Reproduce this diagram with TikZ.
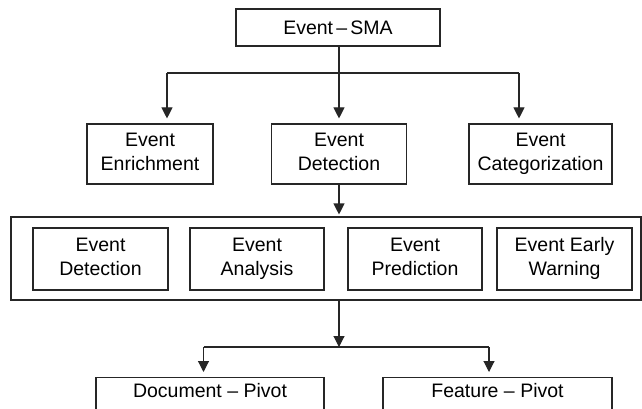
\documentclass[tikz,border=0pt]{standalone}
\usepackage{fontspec}
\setmainfont{Liberation Sans}
\usetikzlibrary{arrows.meta}
\newcommand{\twol}[2]{\strut #1\\\strut #2}
\tikzset{
  box/.style={draw=black!85, line width=1.1pt, inner sep=0pt, align=center,
    font=\fontsize{19.5}{24}\selectfont},
  txt/.style={inner sep=0pt, align=center, font=\fontsize{19.5}{24}\selectfont},
  conn/.style={draw=black!85, line width=1.1pt},
  arr/.style={conn, -{Triangle[width=11pt,length=11pt]}},
}
\begin{document}
\begin{tikzpicture}[x=1pt,y=-1pt]
\useasboundingbox[fill=white] (0,0) rectangle (642,409);
\path[clip] (0,0) rectangle (642,409);
% top
\node[box, minimum width=204pt, minimum height=37pt] (sma) at (338,27.5) {Event\,–\,SMA};
% middle row
\node[box, minimum width=126pt, minimum height=60pt] (enr) at (150,154) {\twol{Event}{Enrichment}};
\node[box, minimum width=135pt, minimum height=60pt] (det) at (339,154) {\twol{Event}{Detection}};
\node[box, minimum width=143pt, minimum height=60pt] (cat) at (540.5,154) {\twol{Event}{Categorization}};
% outer box
\node[box, minimum width=630pt, minimum height=83pt] (outer) at (326,258.5) {};
\node[box, minimum width=135pt, minimum height=62pt] (i1) at (100.5,259) {\twol{Event}{Detection}};
\node[box, minimum width=134pt, minimum height=62pt] (i2) at (257,259) {\twol{Event}{Analysis}};
\node[box, minimum width=134pt, minimum height=62pt] (i3) at (415,259) {\twol{Event}{Prediction}};
\node[box, minimum width=135pt, minimum height=62pt] (i4) at (564.5,259) {\twol{Event Early}{Warning}};
% bottom boxes
\node[box, minimum width=228pt, minimum height=60pt, anchor=north] (doc) at (210,377) {};
\node[txt] (doct) at (210,391) {Document – Pivot};
\node[box, minimum width=229pt, minimum height=60pt, anchor=north] (feat) at (497.5,377) {};
\node[txt] (featt) at (497.5,391) {Feature – Pivot};
% connectors top
\coordinate (bl) at (167,73);
\coordinate (br) at (519,73);
\draw[conn] (bl) -- (br);
\draw[arr, shorten >=5pt] (sma.south -| det.north) -- (det.north);
\draw[arr, shorten >=5pt] (bl) -- (bl |- enr.north);
\draw[arr, shorten >=5pt] (br) -- (br |- cat.north);
% detection to outer
\draw[arr, shorten >=2pt] (det.south) -- (det.south |- outer.north);
% outer to bottom
\coordinate (ml) at (203.5,347);
\coordinate (mr) at (489,347);
\draw[arr] (det.south |- outer.south) -- (det.south |- ml);
\draw[conn] (ml) -- (mr);
\draw[arr, shorten >=5pt] (ml) -- (ml |- doc.north);
\draw[arr, shorten >=5pt] (mr) -- (mr |- feat.north);
\end{tikzpicture}
\end{document}
